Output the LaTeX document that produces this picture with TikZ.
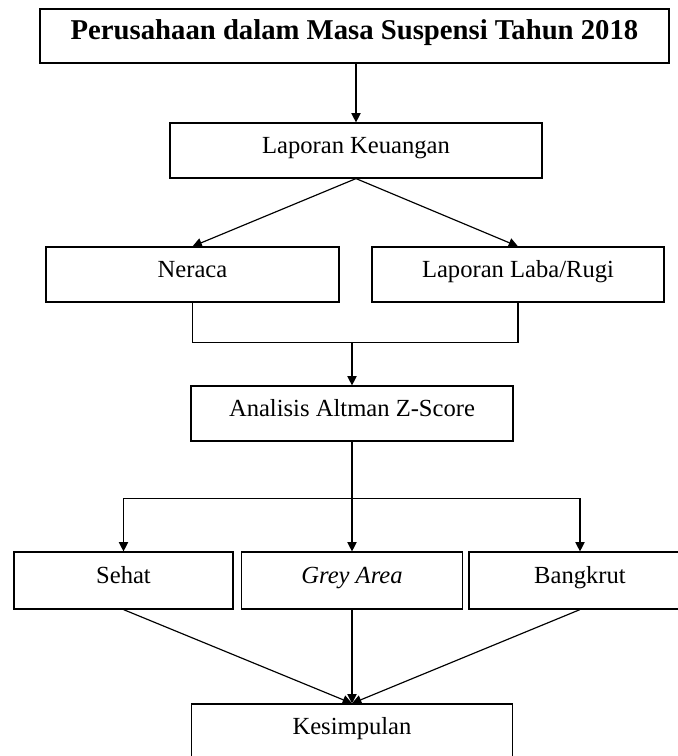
\documentclass[tikz,border=0pt]{standalone}
\usepackage{fontspec}
\setmainfont{Liberation Serif}
\usetikzlibrary{arrows.meta}
\tikzstyle{kotak}=[draw=black,line width=1pt,shape=rectangle,inner sep=0pt,text height=0.68em,text depth=0.22em,font=\fontsize{21}{25}\selectfont]
\tikzstyle{panah}=[-{Triangle[length=8pt,width=8pt]}]

\begin{document}
\begin{tikzpicture}[x=0.03cm, y=-0.03cm, line width=1pt]
	\useasboundingbox (0,0) rectangle (678,756);
	\node (judul) [kotak,minimum width=18.87cm,minimum height=1.62cm,text depth=0.05em,font=\fontsize{24.5}{28}\selectfont\bfseries] at (354.5,36) {Perusahaan dalam Masa Suspensi Tahun 2018};
	\node (laporan) [kotak,minimum width=11.16cm,minimum height=1.65cm] at (356,150.5) {Laporan Keuangan};
	\node (neraca) [kotak,minimum width=8.79cm,minimum height=1.65cm] at (192.5,274.5) {Neraca};
	\node (labarugi) [kotak,minimum width=8.76cm,minimum height=1.65cm] at (518,274.5) {Laporan Laba/Rugi};
	\node (analisis) [kotak,minimum width=9.66cm,minimum height=1.65cm] at (352,413.5) {Analisis Altman Z-Score};
	\node (sehat) [kotak,minimum width=6.57cm,minimum height=1.71cm] at (123.5,580.5) {Sehat};
	\node (grey) [kotak,minimum width=6.63cm,minimum height=1.71cm] at (352,580.5) {\itshape Grey Area};
	\node (bangkrut) [kotak,minimum width=6.66cm,minimum height=1.71cm] at (580,580.5) {Bangkrut};
	\node (kesimpulan) [kotak,minimum width=9.63cm,minimum height=1.65cm] at (352,731.5) {Kesimpulan};
	\path (analisis.north) ++(0,-43) coordinate (gabung)
	      (analisis.south) ++(0,57) coordinate (cabang);
	\draw[panah] (judul.south -| laporan.north) -- (laporan.north);
	\draw[panah] (laporan.south) -- (neraca.north);
	\draw[panah] (laporan.south) -- (labarugi.north);
	\draw (neraca.south) |- (gabung) -| (labarugi.south);
	\draw[panah] (gabung) -- (analisis.north);
	\draw (analisis.south) -- (cabang);
	\draw[panah] (cabang) -| (sehat.north);
	\draw[panah] (cabang) -- (grey.north);
	\draw[panah] (cabang) -| (bangkrut.north);
	\draw[panah] (sehat.south) -- (kesimpulan.north);
	\draw[panah] (grey.south) -- (kesimpulan.north);
	\draw[panah] (bangkrut.south) -- (kesimpulan.north);
\end{tikzpicture}
\end{document}
